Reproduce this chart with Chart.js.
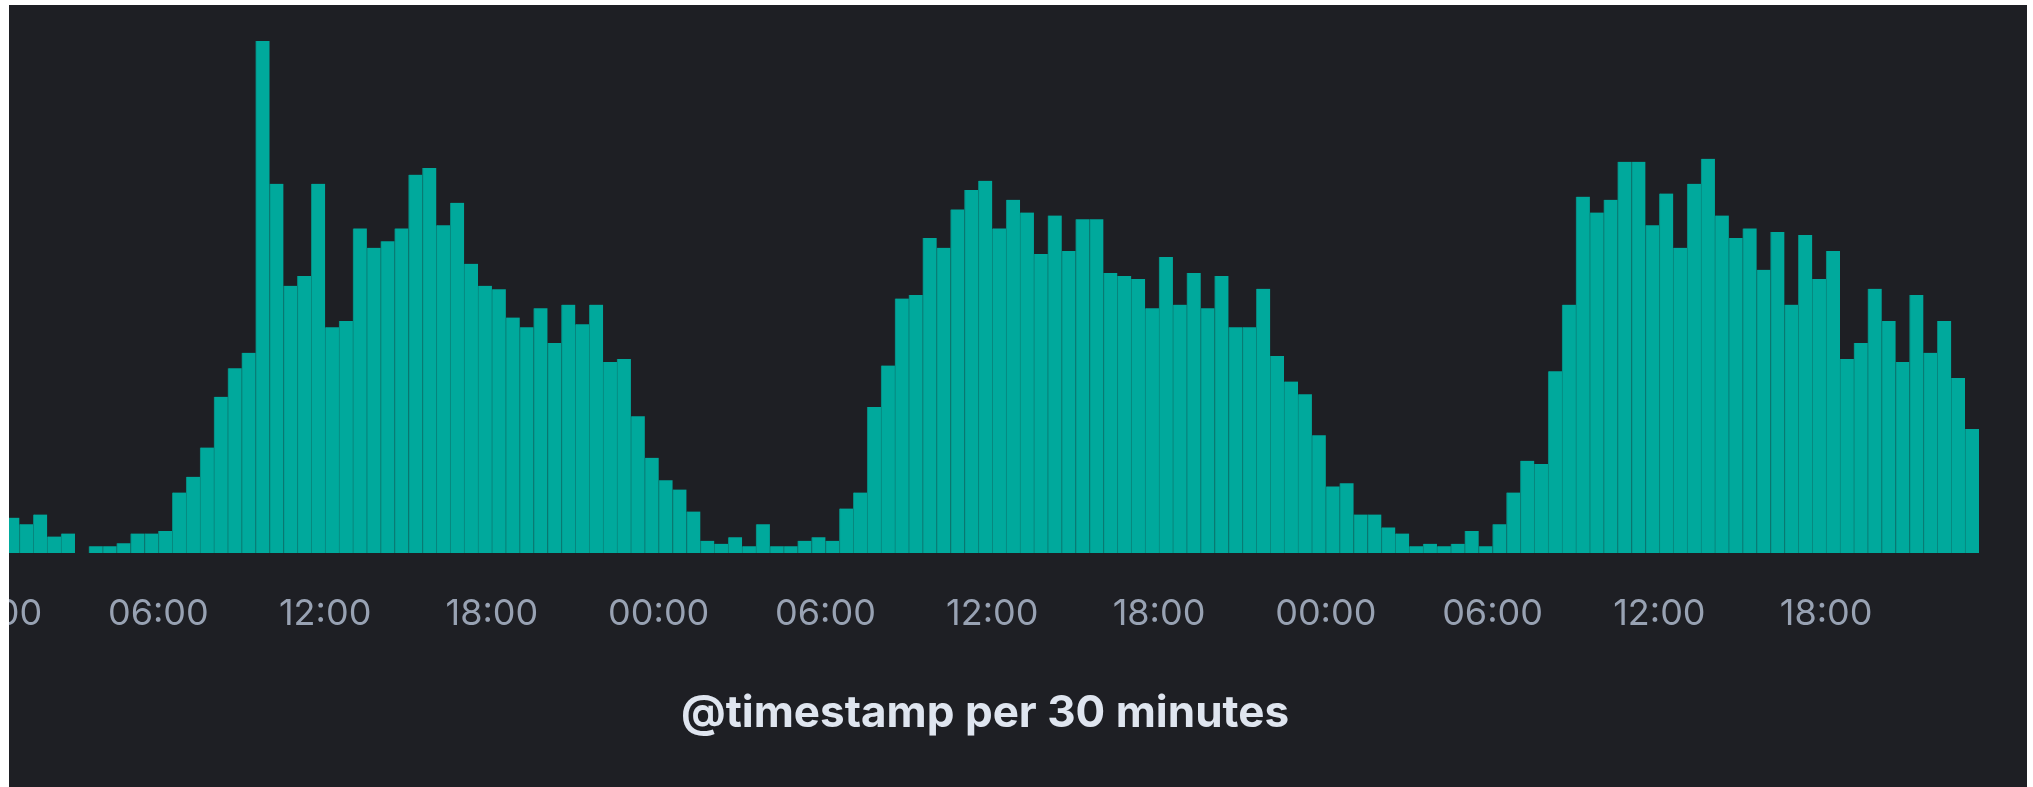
<!DOCTYPE html>
<html>
<head>
<meta charset="utf-8">
<script src="https://cdn.jsdelivr.net/npm/chart.js@4.4.1/dist/chart.umd.min.js"></script>
<style>
  html, body { margin: 0; background: #fff; }
  #frame { position: absolute; left: 9px; top: 5px; width: 2018px; height: 782px; background: #1e1f24; overflow: hidden; }
  #histogram { position: absolute; left: -100px; top: 0; }
</style>
</head>
<body>
<div id="frame"><canvas id="histogram" width="2152" height="782"></canvas></div>
<script>
// doc counts per 30 min bucket, first bucket starts at 00:30 on day 1
const firstBucketHour = 0.5;
const bucketHours = 0.5;

const day1 = [69, 56, 75, 32, 38, 0, 13, 13, 19, 38, 38, 43, 118, 149, 206, 305,
  361, 391, 1000, 721, 522, 541, 721, 441, 453, 634, 596, 609, 634, 739, 752, 640,
  684, 565, 522, 515, 460, 441, 478, 410, 485, 447, 485, 373, 379, 267, 186];
const day2 = [142, 124, 81, 24, 18, 31, 13, 56, 13, 13, 24, 31, 24, 87, 118, 285,
  366, 497, 504, 615, 596, 671, 709, 727, 634, 690, 665, 584, 659, 590, 652, 652,
  547, 541, 535, 478, 578, 485, 547, 478, 541, 441, 441, 516, 385, 335, 310, 230];
const day3 = [130, 136, 75, 75, 50, 38, 13, 18, 13, 18, 43, 13, 56, 118, 180, 174,
  355, 485, 696, 665, 690, 764, 764, 640, 702, 596, 721, 770, 659, 615, 634, 553,
  627, 485, 621, 535, 590, 379, 410, 516, 453, 373, 504, 391, 453, 342, 242];

// one label every 6 hours, starting at 00:00 of day 1
const tickLabels = ['00:00', '06:00', '12:00', '18:00',
  '00:00', '06:00', '12:00', '18:00',
  '00:00', '06:00', '12:00', '18:00'];
const axisTitle = '@timestamp per 30 minutes';

const counts = day1.concat(day2, day3);
const points = counts.map((y, i) => ({ x: firstBucketHour + (i + 0.5) * bucketHours, y }));

new Chart(document.getElementById('histogram'), {
  type: 'bar',
  data: {
    datasets: [{
      data: points,
      backgroundColor: '#00a99c',
      borderColor: '#07867d',
      borderWidth: { left: 1, top: 0, right: 0, bottom: 0 },
      borderSkipped: false,
      barPercentage: 1,
      categoryPercentage: 1
    }]
  },
  options: {
    responsive: false,
    animation: false,
    devicePixelRatio: 1,
    layout: { padding: { top: 36, left: 0, right: 0, bottom: 0 } },
    plugins: {
      legend: { display: false },
      tooltip: { enabled: false }
    },
    scales: {
      x: {
        type: 'linear',
        offset: false,
        min: -2.97,
        max: 74.45,
        grid: { display: false },
        border: { display: false },
        afterBuildTicks: (scale) => {
          scale.ticks = tickLabels.map((_, i) => ({ value: i * 6 }));
        },
        afterFit: (scale) => { scale.height = 234; },
        ticks: {
          autoSkip: false,
          maxRotation: 0,
          padding: 32,
          color: '#98a2b3',
          font: { family: 'Inter', size: 36 },
          callback: (value, index) => tickLabels[index]
        },
        title: {
          display: true,
          text: axisTitle,
          color: '#dfe5ef',
          font: { family: 'Inter', size: 44, weight: 'bold' },
          padding: { top: 0, bottom: 47 }
        }
      },
      y: {
        display: false,
        min: 0,
        max: 1000
      }
    }
  }
});
</script>
</body>
</html>
